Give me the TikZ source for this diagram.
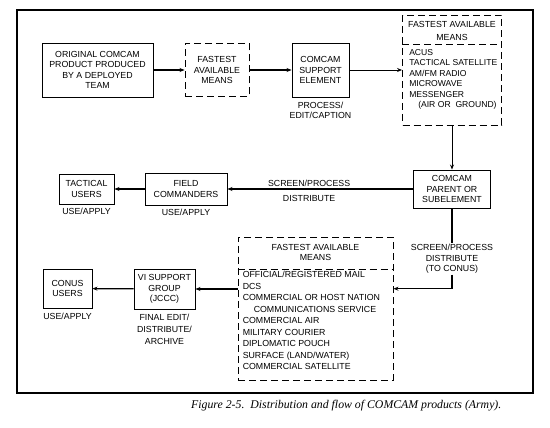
\documentclass[tikz,border=0pt]{standalone}
\usepackage{fontspec}
\setmainfont{Liberation Sans}
\newfontfamily\capfont{Liberation Serif}
\usetikzlibrary{positioning}
\usetikzlibrary{arrows.meta}

\begin{document}
\begin{tikzpicture}[x=1pt,y=-1pt,
	every node/.style={font=\fontsize{8.8}{10.4}\selectfont,align=center,inner sep=1pt},
	box/.style={draw,line width=0.9pt},
	meansbox/.style={draw,line width=0.9pt,dash pattern=on 7pt off 4pt},
	flow/.style={line width=1.2pt,-{Stealth[length=5pt,width=4pt]}},
	link/.style={line width=1.2pt}]
		\useasboundingbox (0,0) rectangle (550,428);
		\draw[line width=2pt] (17,10) rectangle (533,393);
		% top row
		\node[box,minimum width=111,minimum height=54] (orig) at (97.5,70) {ORIGINAL COMCAM\\PRODUCT PRODUCED\\BY A DEPLOYED\\TEAM};
		\node[meansbox,minimum width=64,minimum height=53] (fast1) at (217,70) {FASTEST\\AVAILABLE\\MEANS};
		\node[box,minimum width=57,minimum height=54] (support) at (320.5,70) {COMCAM\\SUPPORT\\ELEMENT};
		\node[below=3pt of support] (process) {PROCESS/\\EDIT/CAPTION};
		\node[meansbox,minimum width=99,minimum height=110] (fast2) at (452,70) {};
		\node[below=1.5pt of fast2.north,minimum height=28.5,font=\fontsize{8.8}{13}\selectfont] (fast2h) {FASTEST AVAILABLE\\MEANS};
		\coordinate (div2) at (fast2.west |- fast2h.south);
		\draw[dash pattern=on 7pt off 4pt,line width=0.9pt] (div2)--(fast2.east |- fast2h.south);
		\node[below right=3pt and 6pt of div2,align=left,font=\fontsize{8.6}{10.5}\selectfont] (fast2l) {ACUS\\TACTICAL SATELLITE\\AM/FM RADIO\\MICROWAVE\\MESSENGER\\\hspace*{9pt}(AIR OR\ \ GROUND)};
		\draw[flow] (orig)--(fast1);
		\draw[flow] (fast1)--(support);
		\draw[flow,line width=0.9pt] (support)--(fast2);
		% middle row
		\node[box,minimum width=77,minimum height=38] (parent) at (452,189) {COMCAM\\PARENT OR\\SUBELEMENT};
		\node[box,minimum width=82,minimum height=32] (field) at (186,189) {FIELD\\COMMANDERS};
		\node[box,minimum width=55,minimum height=30] (tactical) at (86.5,189) {TACTICAL\\USERS};
		\node[below=2pt of field] (fielduse) {USE/APPLY};
		\node[below=2pt of tactical] (tactuse) {USE/APPLY};
		\draw[flow,line width=0.9pt] (fast2)--(parent);
		\draw[flow] (parent)--node[above=1pt,pos=0.56]{SCREEN/PROCESS} node[below=5pt,pos=0.56]{DISTRIBUTE} (field);
		\draw[flow] (field)--(tactical);
		% bottom row
		\node (toconus) at (452,259) {SCREEN/PROCESS\\DISTRIBUTE\\(TO CONUS)};
		\coordinate[below=14pt of toconus.south] (bend);
		\node[meansbox,minimum width=155,minimum height=143] (fast3) at (315.5,308.5) {};
		\node[below=0pt of fast3.north,minimum height=32] (fast3h) {FASTEST AVAILABLE\\MEANS};
		\coordinate (div3) at (fast3.west |- fast3h.south);
		\draw[dash pattern=on 7pt off 4pt,line width=0.9pt] (div3)--(fast3.east |- fast3h.south);
		\node[below right=1pt and 4pt of div3,align=left,font=\fontsize{8.8}{11.5}\selectfont] (fast3l) {OFFICIAL/REGISTERED MAIL\\DCS\\COMMERCIAL OR HOST NATION\\\hspace*{11pt}COMMUNICATIONS SERVICE\\COMMERCIAL AIR\\MILITARY COURIER\\DIPLOMATIC POUCH\\SURFACE (LAND/WATER)\\COMMERCIAL SATELLITE};
		\node[box,minimum width=61,minimum height=40] (vi) at (164.5,289) {VI SUPPORT\\GROUP\\(JCCC)};
		\node[below=3pt of vi,font=\fontsize{8.8}{12}\selectfont] (final) {FINAL EDIT/\\DISTRIBUTE/\\ARCHIVE};
		\node[box,minimum width=49,minimum height=39] (conus) at (67.5,288.5) {CONUS\\USERS};
		\node[below=3pt of conus] (conususe) {USE/APPLY};
		\draw[link] (parent)--(toconus);
		\draw[flow] (toconus)--(bend)--(bend -| fast3.east);
		\draw[flow] (fast3.west |- vi)--(vi);
		\draw[flow] (vi)--(conus);
		% caption
		\node[anchor=west,font=\capfont\itshape\fontsize{11.8}{14}\selectfont] (caption) at (190,406) {Figure 2-5.\ \ Distribution and flow of COMCAM products (Army).};
\end{tikzpicture}
\end{document}
